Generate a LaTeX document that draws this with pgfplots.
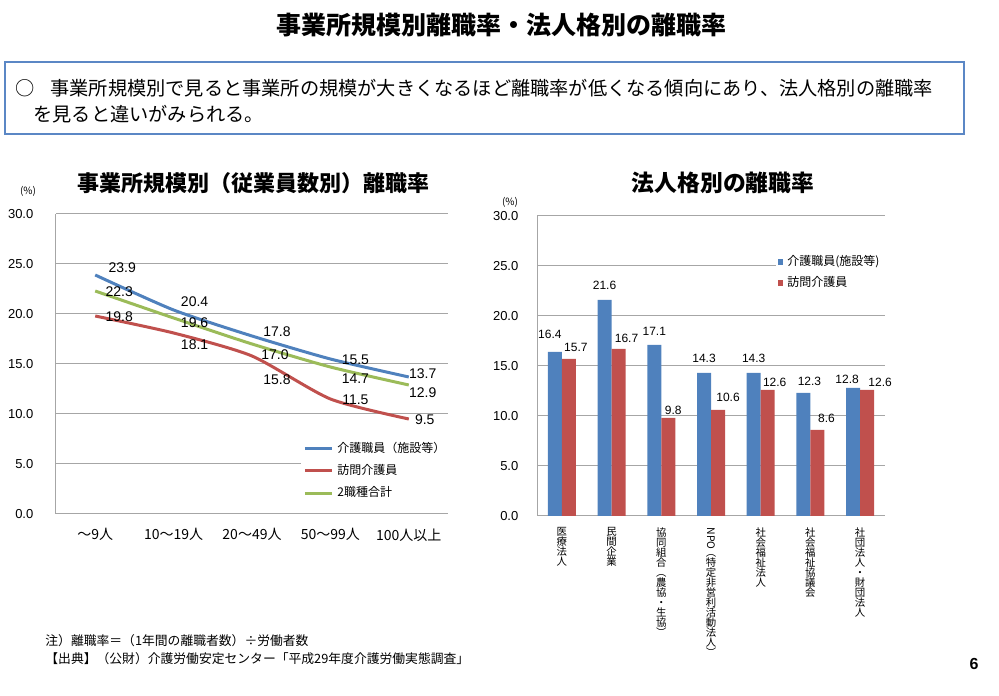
\documentclass[border=0pt]{standalone}
\usepackage{pgfplots}
\pgfplotsset{compat=1.18}
\usepackage{pgfplotstable}
\usepackage{fontspec}
\setmainfont{Liberation Sans}
\newfontfamily\jp{Noto Sans CJK JP}
\definecolor{cblue}{HTML}{4F81BD}
\definecolor{cred}{HTML}{C0504D}
\definecolor{cgreen}{HTML}{9BBB59}
\definecolor{cgrid}{HTML}{A6A6A6}
\definecolor{cbox}{HTML}{5B87C5}

\newcommand\vt[1]{\vtop{\jp\fontsize{5.2}{5}\selectfont\lineskiplimit=-\maxdimen\baselineskip=5pt\halign{\hfil##\hfil\cr#1\crcr}}}

% line chart: x, y, label dx (px, right), label dy (px, up)
\pgfplotstableread{
x y dx dy
0 23.9 27 7
1 20.4 21 8
2 17.8 25 4
3 15.5 25 -1
4 13.7 14 3
}\kaigo
\pgfplotstableread{
x y dx dy
0 19.8 24 -1
1 18.1 21 -12
2 15.8 25 -24
3 11.5 25 -1
4 9.5 16 -1
}\houmon
\pgfplotstableread{
x y dx dy
0 22.3 24 -1
1 19.6 21 -5
2 17.0 23 -11
3 14.7 25 -12
4 12.9 14 -8
}\total
% bar chart: dx measured from the category centre (bar shift included)
\pgfplotstableread{
x y dx dy
0 16.4 -12 18
1 21.6 -7 15
2 17.1 -7 14
3 14.3 -7 15
4 14.3 -7 15
5 12.3 -1 12
6 12.8 -13 9
}\barA
\pgfplotstableread{
x y dx dy
0 15.7 14 12
1 16.7 15 11
2 9.8 12 8
3 10.6 17 13
4 12.6 14 8
5 8.6 16 12
6 12.6 20 8
}\barB

\pgfplotsset{
  lbl/.style={
    nodes near coords={\pgfmathprintnumber[fixed,fixed zerofill,precision=1]{\pgfplotspointmeta}},
    visualization depends on={\thisrow{dx}\as\dx},
    visualization depends on={\thisrow{dy}\as\dy},
    every node near coord/.append style={anchor=center, inner sep=0pt, text=black,
      font=\fontsize{#1}{#1}\selectfont, xshift={\dx*0.5pt}, yshift={\dy*0.5pt}}
  }
}

\begin{document}
\begin{tikzpicture}
\useasboundingbox (0,0) rectangle (499.5pt,347.5pt);

% ---------------- left chart ----------------
\begin{axis}[
  at={(28pt,90.5pt)}, anchor=south west,
  width=196pt, height=150pt, scale only axis,
  xmin=-0.5, xmax=4.5, ymin=0, ymax=30,
  xtick={0,...,4},
  xticklabels={〜9人,10〜19人,20〜49人,50〜99人,100人以上},
  ytick={0,5,...,30},
  /pgf/number format/assume math mode=true,
  yticklabel style={font=\fontsize{6.5}{7}\selectfont, inner sep=0pt, xshift=-9pt,
    /pgf/number format/fixed, /pgf/number format/fixed zerofill, /pgf/number format/precision=1},
  xticklabel style={font=\jp\fontsize{7}{8}\selectfont, inner sep=0pt, yshift=-5pt},
  ymajorgrids, grid style={cgrid, line width=0.5pt},
  axis lines=left, axis line style={-, cgrid, line width=0.5pt},
  xtick style={draw=none}, ytick style={draw=none},
  legend style={at={(0.625,0.262)}, anchor=north west, draw=none, fill=white,
    inner sep=1pt, font=\jp\fontsize{6}{6.5}\selectfont, row sep=0.6pt},
  legend cell align=left,
  legend image code/.code={\draw[#1, line width=1.5pt] (0pt,0pt) -- (13.5pt,0pt);},
  clip=false,
]
\addplot[cblue, line width=1.5pt, smooth, tension=0.4, lbl=7] table[x=x,y=y]{\kaigo};
\addlegendentry{介護職員（施設等）}
\addplot[cred, line width=1.5pt, smooth, tension=0.4, lbl=7] table[x=x,y=y]{\houmon};
\addlegendentry{訪問介護員}
\addplot[cgreen, line width=1.5pt, smooth, tension=0.4, lbl=7] table[x=x,y=y]{\total};
\addlegendentry{2職種合計}
\end{axis}

% ---------------- right chart ----------------
\begin{axis}[
  at={(268.5pt,89.5pt)}, anchor=south west,
  width=174pt, height=150pt, scale only axis,
  xmin=-0.5, xmax=6.5, ymin=0, ymax=30,
  xtick={0,...,6},
  xticklabels={
    {\vt{医\cr 療\cr 法\cr 人}},
    {\vt{民\cr 間\cr 企\cr 業}},
    {\vt{協\cr 同\cr 組\cr 合\cr ︵\cr 農\cr 協\cr ・\cr 生\cr 協\cr ︶}},
    {\vt{\raisebox{4.3pt}{\rotatebox{-90}{\fontsize{5.2}{5}\selectfont NPO}}\cr \cr ︵\cr 特\cr 定\cr 非\cr 営\cr 利\cr 活\cr 動\cr 法\cr 人\cr ︶}},
    {\vt{社\cr 会\cr 福\cr 祉\cr 法\cr 人}},
    {\vt{社\cr 会\cr 福\cr 祉\cr 協\cr 議\cr 会}},
    {\vt{社\cr 団\cr 法\cr 人\cr ・\cr 財\cr 団\cr 法\cr 人}}
  },
  ytick={0,5,...,30},
  /pgf/number format/assume math mode=true,
  yticklabel style={font=\fontsize{6.5}{7}\selectfont, inner sep=0pt, xshift=-7pt,
    /pgf/number format/fixed, /pgf/number format/fixed zerofill, /pgf/number format/precision=1},
  xticklabel style={anchor=north, inner sep=0pt, yshift=-3.5pt},
  ymajorgrids, grid style={cgrid, line width=0.5pt},
  axis lines=left, axis line style={-, cgrid, line width=0.5pt},
  xtick style={draw=none}, ytick style={draw=none},
  legend style={at={(0.686,0.89)}, anchor=north west, draw=none, fill=white,
    inner sep=1pt, font=\jp\fontsize{6}{6.5}\selectfont, row sep=0pt},
  legend cell align=left,
  clip=false,
]
\addplot[ybar, bar width=7pt, bar shift=-3.5pt, fill=cblue, draw=none, lbl=6,
  legend image code/.code={\fill[cblue] (0pt,-1.3pt) rectangle (2.6pt,1.3pt);}]
  table[x=x,y=y]{\barA};
\addlegendentry{介護職員(施設等)}
\addplot[ybar, bar width=7pt, bar shift=3.5pt, fill=cred, draw=none, lbl=6,
  legend image code/.code={\fill[cred] (0pt,-1.3pt) rectangle (2.6pt,1.3pt);}]
  table[x=x,y=y]{\barB};
\addlegendentry{訪問介護員}
\end{axis}

% ---------------- slide text ----------------
\begin{scope}[x=0.5pt, y=-0.5pt, shift={(0pt,347.5pt)}]
\node[font=\jp\bfseries\fontsize{12.5}{14}\selectfont] at (501,25) {事業所規模別離職率・法人格別の離職率};
\draw[cbox, line width=1pt] (5,62) rectangle (964,134);
\node[font=\jp\fontsize{9.6}{11}\selectfont, inner sep=0pt] at (25,88) {○};
\node[font=\jp\fontsize{9.6}{11}\selectfont, anchor=west, inner sep=0pt] at (50,88) {事業所規模別で見ると事業所の規模が大きくなるほど離職率が低くなる傾向にあり、法人格別の離職率};
\node[font=\jp\fontsize{9.6}{11}\selectfont, anchor=west, inner sep=0pt] at (33,114) {を見ると違いがみられる。};
\node[font=\jp\bfseries\fontsize{11}{12}\selectfont] at (253,183) {事業所規模別（従業員数別）離職率};
\node[font=\jp\bfseries\fontsize{11.4}{12}\selectfont] at (723,183) {法人格別の離職率};
\node[font=\jp\fontsize{5}{5.5}\selectfont] at (28,191) {(\%)};
\node[font=\jp\fontsize{5}{5.5}\selectfont] at (510,202) {(\%)};
\node[font=\jp\fontsize{6.4}{7}\selectfont, anchor=west, inner sep=0pt] at (45,641) {注）離職率＝（1年間の離職者数）÷労働者数};
\node[font=\jp\fontsize{6.4}{7}\selectfont, anchor=west, inner sep=0pt] at (45,659) {【出典】（公財）介護労働安定センター「平成29年度介護労働実態調査」};
\node[font=\bfseries\fontsize{8}{9}\selectfont] at (974,664) {6};
\end{scope}
\end{tikzpicture}
\end{document}
